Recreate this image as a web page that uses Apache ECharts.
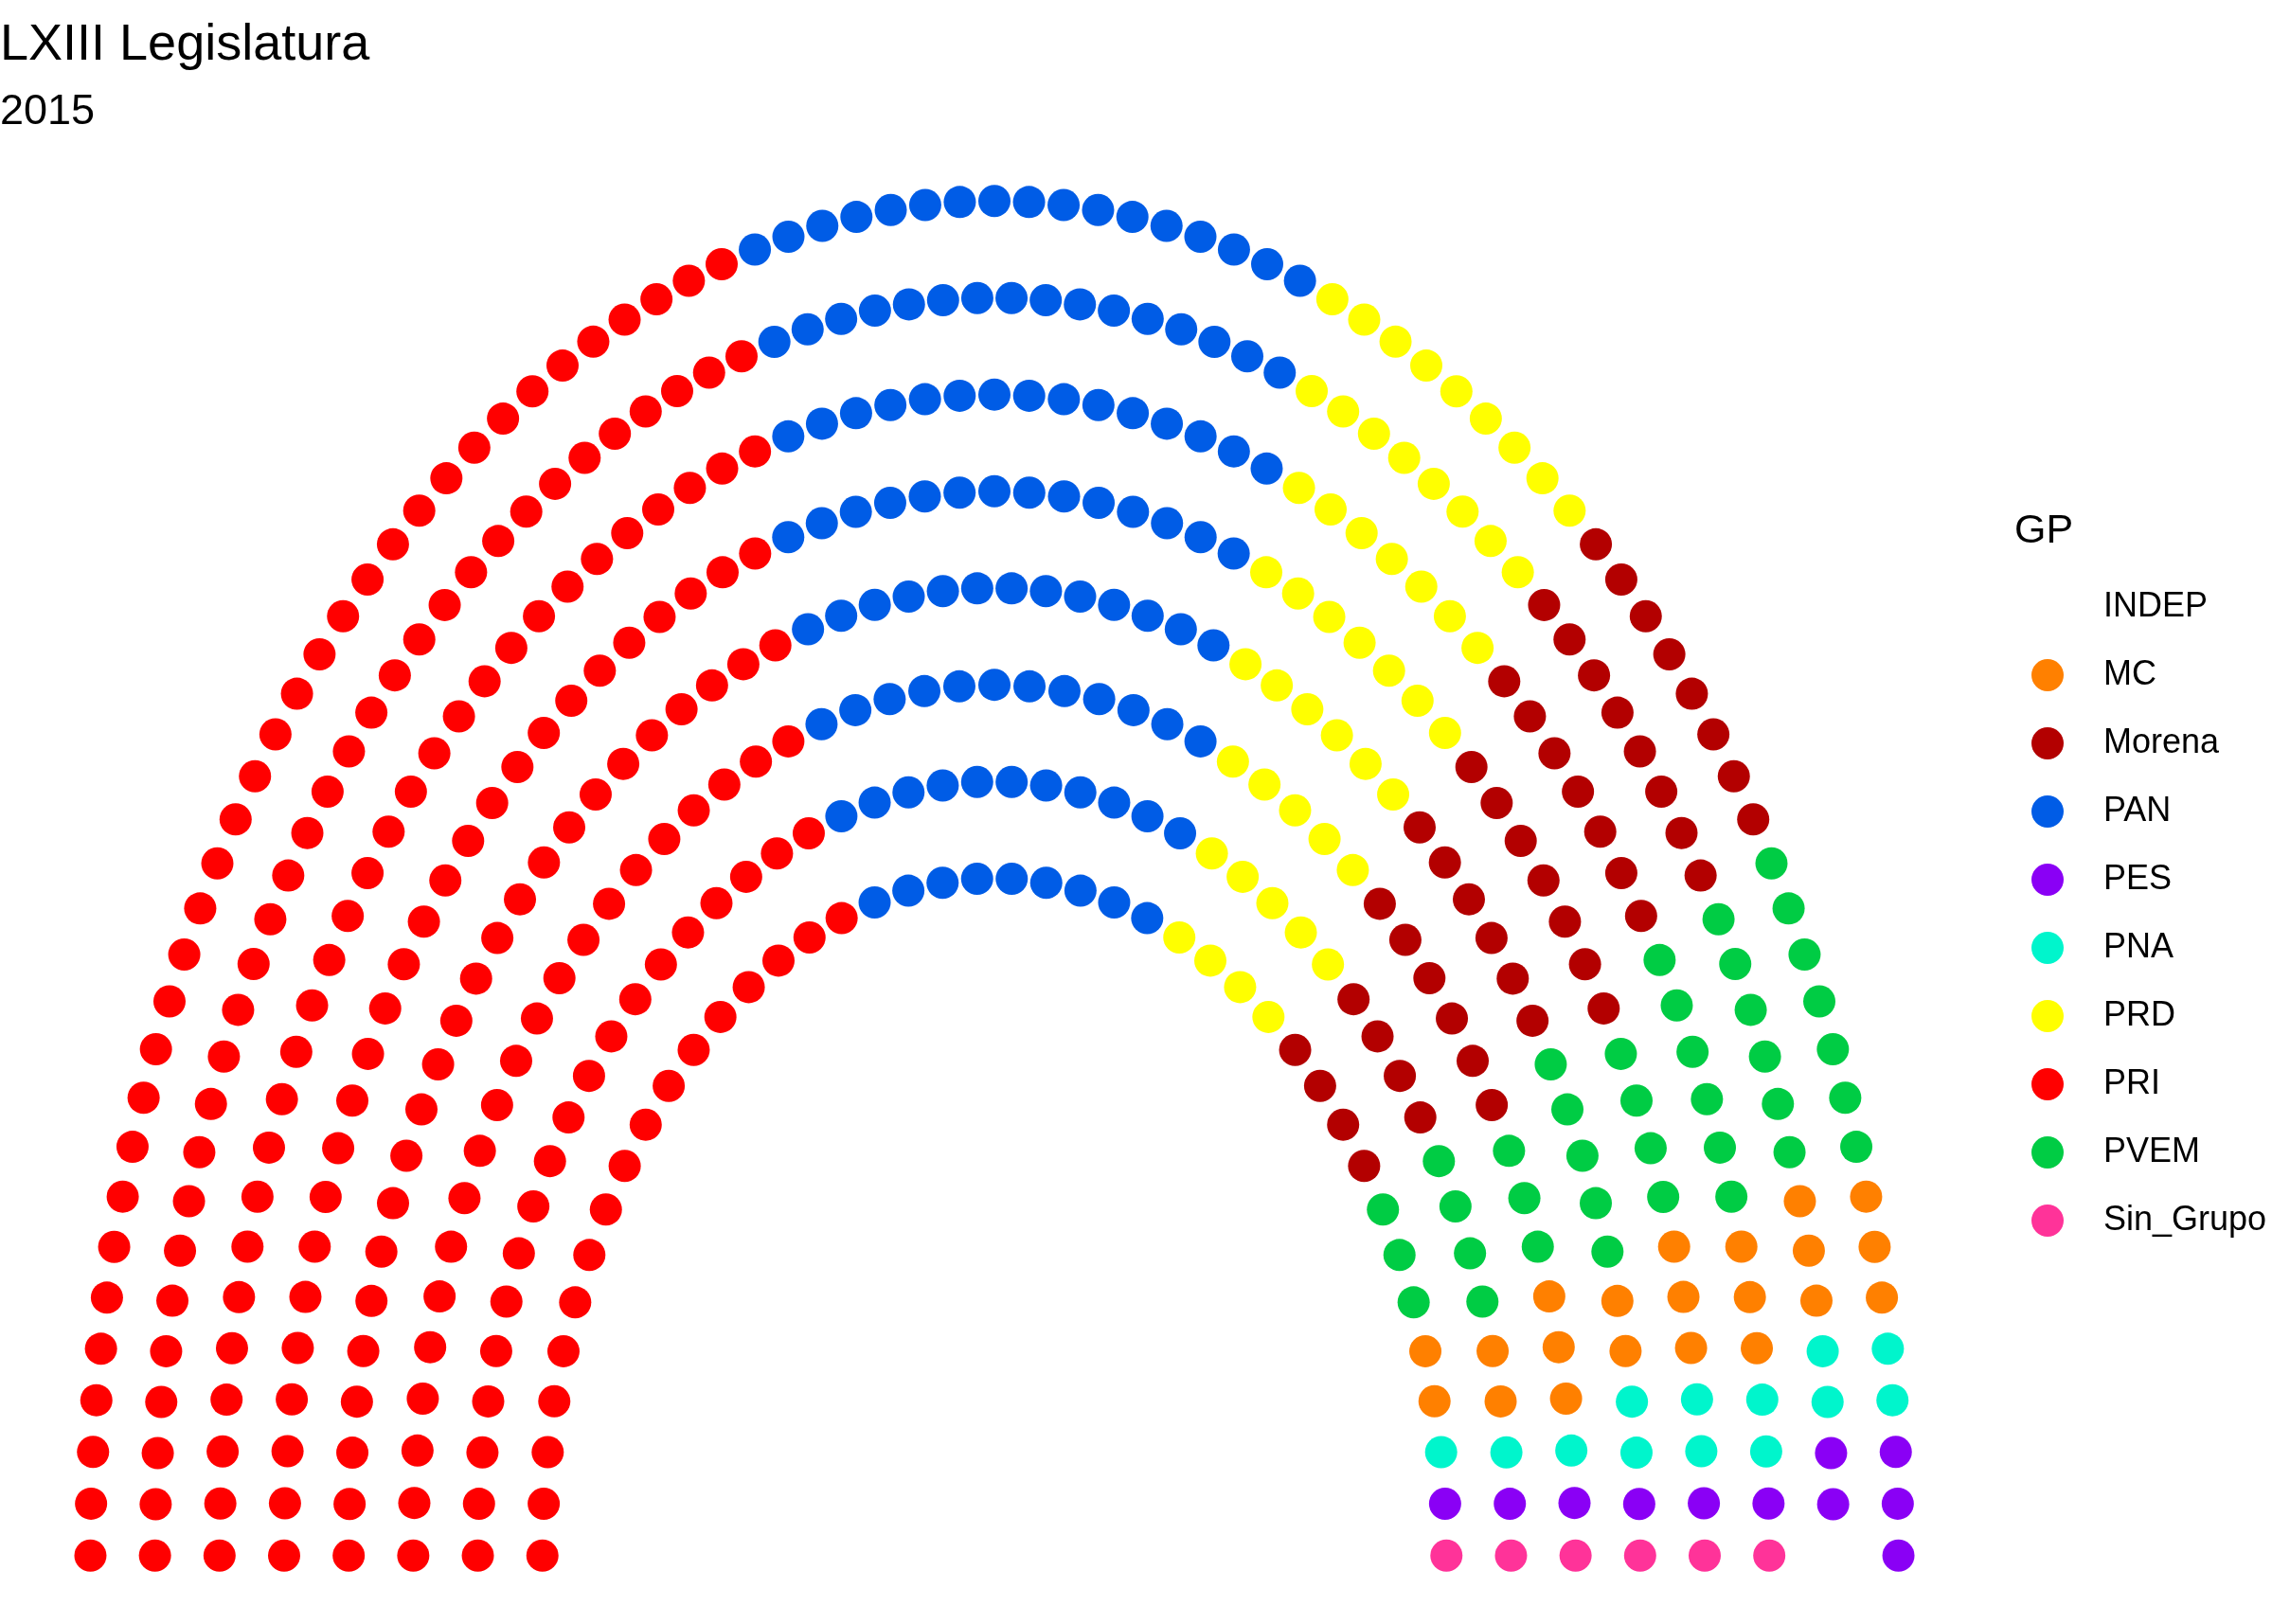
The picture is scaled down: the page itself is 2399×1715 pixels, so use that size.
<!DOCTYPE html>
<html><head><meta charset="utf-8">
<script src="https://cdn.jsdelivr.net/npm/echarts@6/dist/echarts.min.js"></script>
<style>html,body{margin:0;padding:0;background:#fff}#c{width:2399px;height:1715px}</style>
</head><body><div id="c"></div>
<script>
const titleText = 'LXIII Legislatura';
const subtitleText = '2015';
const legendTitle = 'GP';
// parties in seating order (left to right)
const parties = ['PRI','PAN','PRD','Morena','PVEM','MC','PNA','PES','INDEP','Sin_Grupo'];
const seats   = [202, 107, 51, 50, 38, 21, 13, 11, 1, 6];
const colors  = ['#FF0000','#005CE6','#FFFF00','#B30000','#00CC44','#FF8000','#00F5CC','#8A00F5','#FFFFFF','#FF3399'];
const legendOrder = ['INDEP','MC','Morena','PAN','PES','PNA','PRD','PRI','PVEM','Sin_Grupo'];
const rowSeats = [42, 48, 53, 60, 65, 71, 78, 83]; // seats per row, inner to outer
const innerRadius = 1, outerRadius = 2;

const FONT = '"Liberation Sans", Arial, sans-serif';

// semicircle seat layout (seats ordered by angle, outer row first on ties)
const nRows = rowSeats.length;
const pts = [];
rowSeats.forEach((n, i) => {
  const r = innerRadius + (outerRadius - innerRadius) * i / (nRows - 1);
  const step = Math.PI / (n - 1);
  for (let k = 0; k < n; k++) {
    const th = (k === n - 1) ? Math.PI : k * step;
    pts.push({ x: r * Math.cos(th), y: r * Math.sin(th), th: th, row: i });
  }
});
pts.sort((a, b) => (Math.abs(a.th - b.th) > 1e-9 ? b.th - a.th : b.row - a.row));

let idx = 0;
const series = parties.map((p, j) => {
  const data = pts.slice(idx, idx + seats[j]).map(q => [q.x, q.y]);
  idx += seats[j];
  return {
    type: 'scatter', name: p, data: data, symbol: 'circle', symbolSize: 34,
    itemStyle: { color: colors[j], opacity: 1 }, silent: true, animation: false
  };
});

const chart = echarts.init(document.getElementById('c'), null, { renderer: 'canvas' });
chart.setOption({
  backgroundColor: '#ffffff',
  animation: false,
  title: [
    { text: titleText, left: 0, top: 21, padding: 0,
      textStyle: { fontSize: 54, fontWeight: 'normal', fontFamily: FONT, color: '#000' } },
    { text: subtitleText, left: 0, top: 96, padding: 0,
      textStyle: { fontSize: 45, fontWeight: 'normal', fontFamily: FONT, color: '#000' } },
    { text: legendTitle, left: 2127, top: 540, padding: 0,
      textStyle: { fontSize: 43, fontWeight: 'normal', fontFamily: FONT, color: '#000' } }
  ],
  grid: { left: 0, top: 140.8, width: 2100, height: 1573.4, containLabel: false },
  xAxis: { type: 'value', min: -2.2, max: 2.2, show: false },
  yAxis: { type: 'value', min: -0.1, max: 2.1, show: false },
  legend: {
    data: legendOrder, orient: 'vertical', left: 2145, top: 622, padding: 0,
    itemWidth: 34, itemHeight: 34, itemGap: 34, icon: 'circle', selectedMode: false,
    textStyle: { fontSize: 36, fontFamily: FONT, color: '#000', lineHeight: 38, padding: [0, 0, 0, 37] }
  },
  series: series
});
</script>
</body></html>
